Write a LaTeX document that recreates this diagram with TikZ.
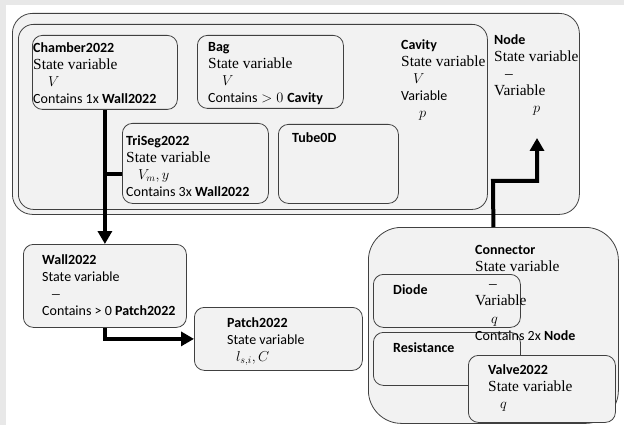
\documentclass[tikz,border=0pt]{standalone}
\usepackage{fontspec}
\setmainfont[Scale=1.1]{Liberation Serif}
\setsansfont{Carlito}
\usepackage{tikz}
\usetikzlibrary{arrows.meta}
\definecolor{boxline}{RGB}{64, 64, 64}
\definecolor{boxfill}{RGB}{242, 242, 242}
\definecolor{edgegray}{RGB}{232, 232, 232}
\newcommand{\cls}[1]{{\sffamily\bfseries #1}}

\begin{document}
\begin{tikzpicture}[x=1pt,y=-1pt,
  box/.style={draw=boxline,fill=boxfill,line width=0.8pt,rounded corners=10pt,anchor=north west,inner sep=0pt},
  txt/.style={anchor=north west,align=left,inner sep=0pt,font=\fontsize{14}{17.2}\selectfont},
  flow/.style={line width=4pt,-{Triangle[length=13pt,width=14pt]}}]
\useasboundingbox (0,0) rectangle (624,425);
\fill[edgegray] (0,0) rectangle (624,5);
\fill[edgegray] (0,0) rectangle (6,425);

% containers
\node[box,rounded corners=20pt,minimum width=567pt,minimum height=201pt] (nodebox) at (12,13) {};
\node[box,rounded corners=15pt,minimum width=469pt,minimum height=185pt] (cavity) at (18,24) {};
\node[box,minimum width=145pt,minimum height=74pt] (chamber) at (32,35) {};
\node[box,minimum width=146pt,minimum height=73pt] (bag) at (197,35) {};
\node[box,minimum width=146pt,minimum height=80pt] (triseg) at (122,123) {};
\node[box,minimum width=120pt,minimum height=79pt] (tube) at (278,124) {};
\node[box,minimum width=163pt,minimum height=83pt] (wall) at (23,244) {};
\node[box,minimum width=168pt,minimum height=63pt] (patch) at (194,307) {};
\node[box,rounded corners=33pt,minimum width=250pt,minimum height=196pt] (connector) at (368,227) {};
\node[box,minimum width=147pt,minimum height=53pt] (diode) at (373,274) {};
\node[box,minimum width=147pt,minimum height=53pt] (resistance) at (373,332) {};
\node[box,minimum width=147pt,minimum height=67pt] (valve) at (468,355) {};

% texts
\node[txt] (chambertxt) at (33,42) {\cls{Chamber2022}\\ State variable\\ \hspace*{15pt}$V$\\ {\sffamily Contains 1x \textbf{Wall2022}}};
\node[txt] (bagtxt) at (208,42) {\cls{Bag}\\ State variable\\ \hspace*{14pt}$V$\\ {\sffamily Contains} $>0$ \cls{Cavity}};
\node[txt] (trisegtxt) at (126,135) {\cls{TriSeg2022}\\ State variable\\ \hspace*{12pt}$V_m, y$\\ {\sffamily Contains 3x \textbf{Wall2022}}};
\node[txt] (tubetxt) at (292,132) {\cls{Tube0D}};
\node[txt] (cavitytxt) at (401,39) {\cls{Cavity}\\ State variable\\ \hspace*{12pt}$V$\\ {\sffamily Variable}\\ \hspace*{18pt}$p$};
\node[txt] (nodetxt) at (494,34) {\cls{Node}\\ State variable\\ \hspace*{11pt}\textendash\\ Variable\\ \hspace*{39pt}$p$};
\node[txt] (walltxt) at (42,254) {\cls{Wall2022}\\ {\sffamily State variable}\\ \hspace*{10pt}\textendash\\ {\sffamily Contains > 0 \textbf{Patch2022}}};
\node[txt] (patchtxt) at (227,317) {\cls{Patch2022}\\ {\sffamily State variable}\\ \hspace*{9pt}$l_{s,i}, C$};
\node[txt] (diodetxt) at (393,284) {\cls{Diode}};
\node[txt] (resistancetxt) at (393,342) {\cls{Resistance}};
\node[txt] (connectortxt) at (475,245) {\cls{Connector}\\ State variable\\ \hspace*{14pt}\textendash\\ Variable\\ \hspace*{16pt}$q$\\ {\sffamily Contains 2x \textbf{Node}}};
\node[txt] (valvetxt) at (488,364) {\cls{Valve2022}\\ State variable\\ \hspace*{12pt}$q$};

% arrows
\coordinate (branch) at (105,174);
\coordinate (bend) at (493,181);
\coordinate (nodetip) at (537,138);
\draw[line width=4pt] (branch) -- (branch -| triseg.west);
\draw[flow] (chamber.south) -- (wall.north);
\draw[flow] (wall.south) |- (patch.west);
\draw[flow] (connector.north) -- (bend) -| (nodetip);
\end{tikzpicture}
\end{document}
